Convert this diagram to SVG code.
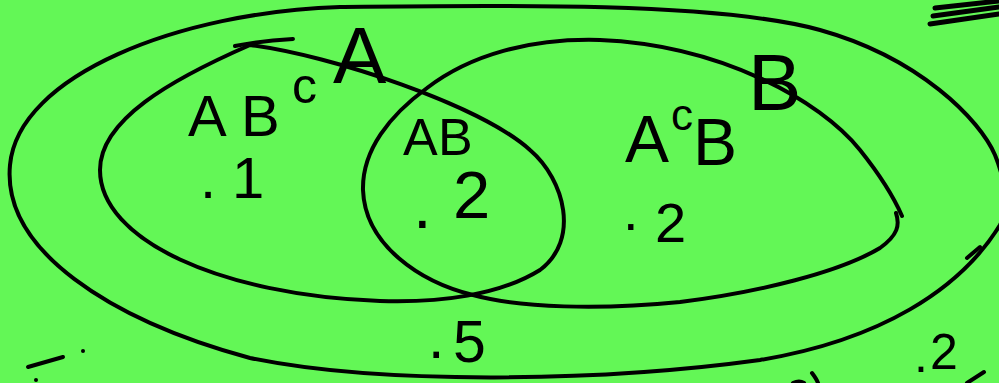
<svg xmlns="http://www.w3.org/2000/svg" width="999" height="383" viewBox="0 0 999 383">
<style>
.ink{fill:none;stroke:#000;stroke-width:4;stroke-linecap:round;stroke-linejoin:round}
.thick{fill:none;stroke:#000;stroke-width:5;stroke-linecap:round}
.dot{fill:#000}
text{font-family:"Liberation Sans","DejaVu Sans",sans-serif;fill:#000}
</style>
<rect width="999" height="383" fill="#63F756"/>
<g id="universe">
<path class="ink" d="M 340 7 C 180 12, 18 75, 10 165 C 2 250, 110 320, 250 358 C 380 385, 600 382, 760 360 C 880 340, 960 290, 1000 225 C 1010 205, 1005 180, 995 155 C 980 120, 920 58, 820 30 C 720 2, 500 5, 340 7"/>
<path class="ink" d="M 967 258 L 980 247"/>
</g>
<g id="setA">
<path class="ink" d="M 250 45 C 170 80, 100 120, 100 170 C 100 240, 220 295, 380 301 C 440 303, 500 295, 540 270 C 580 240, 565 180, 530 150 C 480 105, 330 55, 250 45"/>
<path class="ink" d="M 235 46 C 255 42, 275 40, 293 39"/>
<text x="333" y="83" font-size="80">A</text>
</g>
<g id="setB">
<path class="ink" d="M 896 213 C 900 225, 898 235, 880 248 C 840 272, 760 292, 680 302 C 600 310, 520 308, 473 295 C 420 282, 365 245, 363 190 C 362 150, 390 115, 427 88 C 470 55, 530 38, 600 40 C 720 45, 820 100, 860 150 C 880 175, 895 200, 902 216"/>
<text x="748" y="110" font-size="80">B</text>
</g>
<g id="region-ABc">
<text font-size="58" y="136"><tspan x="188">A</tspan><tspan x="241">B</tspan></text>
<text x="292" y="103" font-size="50">c</text>
<text font-size="58" y="198"><tspan x="200">.</tspan><tspan x="232">1</tspan></text>
</g>
<g id="region-AB">
<text font-size="52" y="155"><tspan x="403">A</tspan><tspan x="438">B</tspan></text>
<text font-size="67"><tspan x="413" y="228">.</tspan><tspan x="453" y="218">2</tspan></text>
</g>
<g id="region-AcB">
<text x="625" y="162" font-size="66">A</text>
<text x="671" y="130" font-size="44">c</text>
<text x="693" y="165" font-size="66">B</text>
<text font-size="56"><tspan x="623" y="230">.</tspan><tspan x="655" y="242">2</tspan></text>
</g>
<g id="region-AcBc">
<text font-size="59"><tspan x="428" y="358">.</tspan><tspan x="453" y="362">5</tspan></text>
</g>
<g id="outside">
<text font-size="50"><tspan x="914" y="372">.</tspan><tspan x="930" y="369">2</tspan></text>
</g>
<g id="marks">
<path class="thick" d="M 935 8 L 999 1"/>
<path class="thick" d="M 933 16 L 999 7"/>
<path class="thick" d="M 930 24 L 999 14"/>
<path class="ink" d="M 28 367 L 63 357"/>
<circle class="dot" cx="83" cy="351" r="2"/>
<circle class="dot" cx="36" cy="380" r="2"/>
<path class="ink" d="M 967 383 L 984 372"/>
<path class="ink" d="M 812 373 C 815 377, 817 380, 818 383"/>
<path class="ink" d="M 793 383 C 797 381, 801 381, 804 383"/>
</g>
</svg>
